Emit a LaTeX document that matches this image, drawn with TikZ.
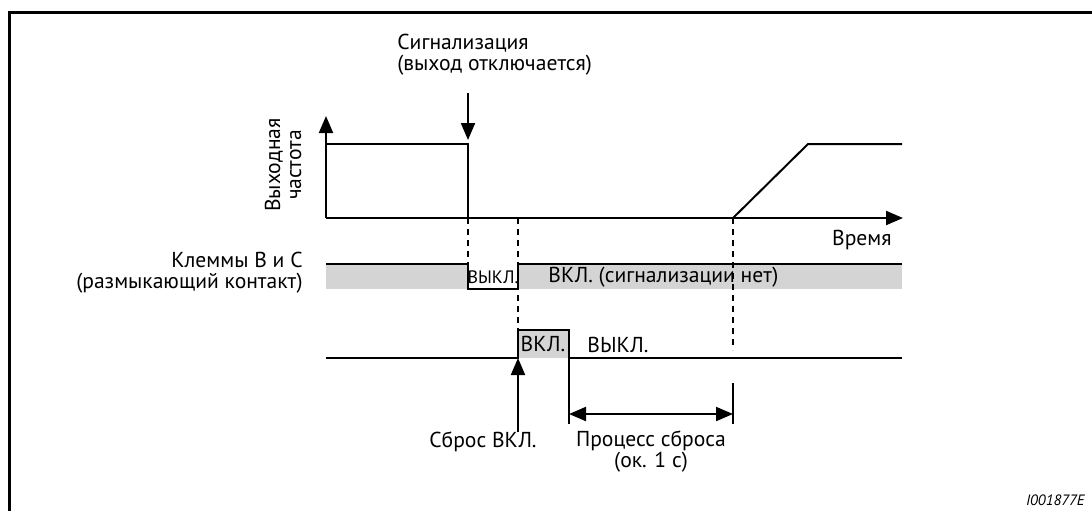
\documentclass[tikz,border=0pt]{standalone}
\usepackage{fontspec}
\setmainfont{PT Sans}
\usetikzlibrary{arrows.meta}
\definecolor{barfill}{gray}{0.83}
\tikzset{sigline/.style={line width=1pt}}
\tikzset{thinline/.style={line width=0.6pt}}
\tikzset{dashline/.style={line width=0.6pt,dash pattern=on 3pt off 2.5pt}}
\tikzset{axarrow/.style={line width=1pt,-{Triangle[length=8.5pt,width=7pt]}}}
\tikzset{dimarrow/.style={line width=1pt,
    {Triangle[length=8.5pt,width=7pt]}-{Triangle[length=8.5pt,width=7pt]}}}
\tikzset{lbl/.style={font=\fontsize{10.8}{10.5}\selectfont,inner sep=0pt}}

\begin{document}
\begin{tikzpicture}[x=0.5pt,y=-0.5pt]
\useasboundingbox (0,0) rectangle (1092,511);

% x: оси и моменты времени
\pgfmathsetmacro{\xo}{326}
\pgfmathsetmacro{\xa}{468}
\pgfmathsetmacro{\xr}{518}
\pgfmathsetmacro{\xs}{569}
\pgfmathsetmacro{\xt}{733}
\pgfmathsetmacro{\xu}{808}
\pgfmathsetmacro{\xe}{902}

% y: уровни
\pgfmathsetmacro{\ya}{116}
\pgfmathsetmacro{\yf}{144}
\pgfmathsetmacro{\yb}{218}
\pgfmathsetmacro{\yh}{264}
\pgfmathsetmacro{\yl}{289}
\pgfmathsetmacro{\yp}{330}
\pgfmathsetmacro{\yq}{358}
\pgfmathsetmacro{\yd}{414}

% рамка
\draw[line width=1.5pt] (9,511) -- (9,12) -- (1092,12);

% заливка
\fill[barfill] (\xo,\yh) rectangle (\xa,\yl);
\fill[barfill] (\xr,\yh) rectangle (\xe,\yl);
\fill[barfill] (\xr,\yp) rectangle (\xs,\yq);

% пунктир
\draw[dashline] (\xa,\yb) -- (\xa,\yh);
\draw[dashline] (\xr,\yb) -- (\xr,\yp);
\draw[dashline] (\xt,\yb) -- (\xt,350);

% оси
\coordinate (org) at (\xo,\yb);
\draw[axarrow] (org) -- (\xo,\ya);
\draw[axarrow] (org) -- (903,\yb);

% выходная частота
\draw[sigline] (\xo,\yf) -- (\xa,\yf) -- (\xa,\yb);
\draw[sigline] (\xt,\yb) -- (\xu,\yf) -- (\xe,\yf);

% клеммы B и C
\draw[sigline] (\xo,\yh) -- (\xa,\yh) -- (\xa,\yl) -- (\xr,\yl)
    -- (\xr,\yh) -- (\xe,\yh);

% сброс
\draw[sigline] (\xo,\yq) -- (\xr,\yq) -- (\xr,\yp) -- (\xs,\yp)
    -- (\xs,\yq) -- (\xe,\yq);
\draw[thinline] (\xs,\yq) -- (\xs,424);
\draw[thinline] (\xt,383) -- (\xt,424);

% надписи
\node[lbl,anchor=west,align=left] (alarm) at (397,55)
    {Сигнализация\\(выход отключается)};
\node[lbl,rotate=90,align=center] (freq) at (283,165)
    {Выходная\\частота};
\node[lbl,anchor=east] (time) at (892,240) {Время};
\node[lbl,anchor=east,align=right] (term) at (303,273)
    {Клеммы B и C\\(размыкающий контакт)};
\node[lbl,font=\fontsize{9}{10}\selectfont] (off1) at (493,277) {ВЫКЛ.};
\node[lbl,anchor=west] (on1) at (548,277) {ВКЛ. (сигнализации нет)};
\node[lbl] (on2) at (543,344) {ВКЛ.};
\node[lbl,anchor=west] (off2) at (587,345) {ВЫКЛ.};
\node[lbl,anchor=east] (reset) at (537,442) {Сброс ВКЛ.};
\node[lbl,align=center] (proc) at (651,452) {Процесс сброса\\(ок. 1 с)};
\node[lbl,anchor=east,font=\fontsize{7.5}{8}\itshape] (code) at (1085,500)
    {I001877E};

% стрелки
\coordinate (alm) at (\xa,140);
\coordinate (rst) at (\xr,\yq);
\coordinate (ds) at (\xs,\yd);
\coordinate (de) at (\xt,\yd);
\draw[axarrow] (\xa,93) -- (alm);
\draw[axarrow] (reset.north -| rst) -- (rst);
\draw[dimarrow] (ds) -- (de);

\end{tikzpicture}
\end{document}
